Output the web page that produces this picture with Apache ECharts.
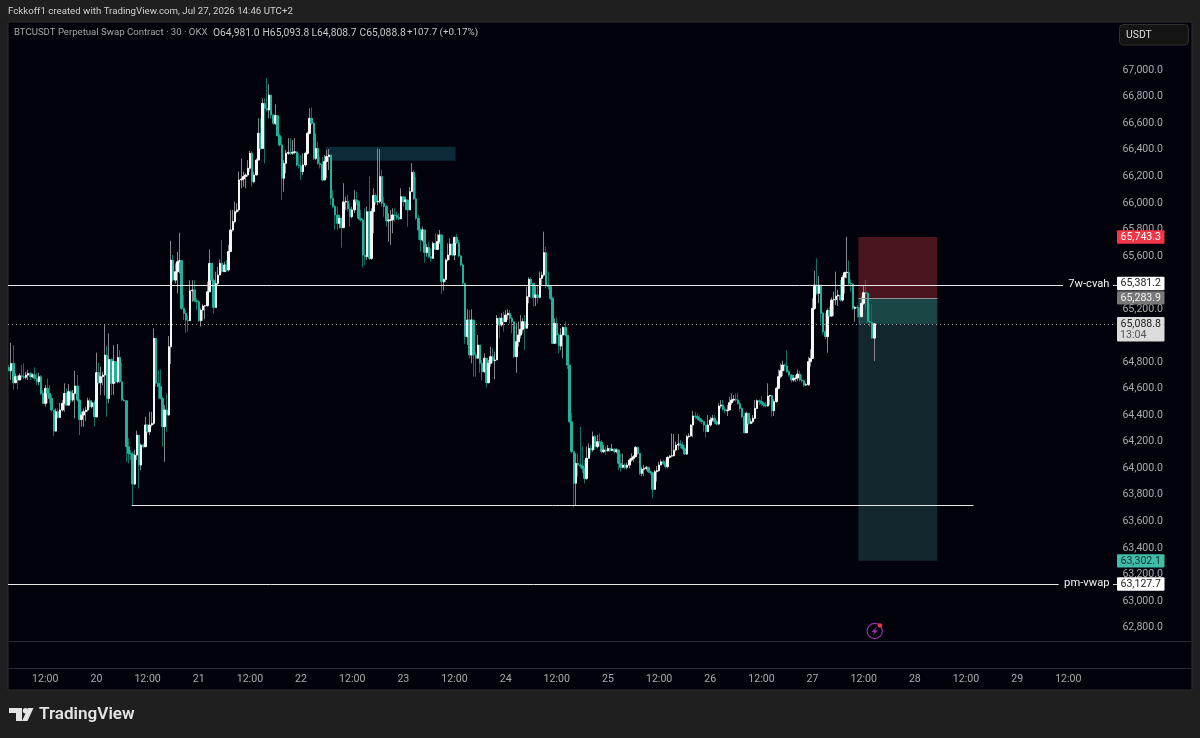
<!DOCTYPE html>
<html><head><meta charset="utf-8">
<style>html,body{margin:0;padding:0;background:#1f1f1f}#c{width:1200px;height:738px}</style>
<script src="https://cdn.jsdelivr.net/npm/echarts@6/dist/echarts.min.js"></script>
</head><body><div id="c"></div>
<script>
// Each bar: [close, high, low]; the open is the previous close.
const firstOpen = 64760;
const jul19 = [[64735,64778,64727],[64790,64946,64665],[64645,64928,64594],[64690,64715,64640],[64665,64702,64594],[64697,64715,64665],[64690,64778,64670],[64685,64790,64670],[64702,64727,64670],[64715,64740,64665],[64690,64727,64665],[64704,64715,64680],[64677,64760,64660],[64652,64715,64627],[64690,64720,64627],[64564,64702,64551],[64489,64589,64484],[64602,64627,64464],[64564,64677,64489],[64526,64627,64489],[64439,64551,64426],[64280,64439,64243],[64426,64451,64275],[64383,64451,64376],[64439,64494,64388],[64489,64514,64426],[64564,64640,64426],[64476,64602,64471],[64577,64634,64476],[64514,64589,64489],[64564,64590,64501],[64620,64735,64376],[64514,64702,64501],[64368,64526,64250],[64401,64426,64313],[64426,64451,64313],[64439,64464,64358],[64509,64532,64426],[64464,64526,64451],[64494,64514,64451],[64388,64514,64313]];
const jul20 = [[64720,64871,64383],[64645,64795,64634],[64690,64765,64551],[64702,64727,64627],[64853,65087,64547],[64526,64921,64388],[64820,65016,64489],[64640,64828,64551],[64803,64928,64551],[64652,64803,64640],[64835,64936,64640],[64652,64891,64640],[64514,64803,64509],[64509,64526,64501],[64162,64514,64049],[64112,64225,64037],[64107,64137,64062],[63881,64125,63723],[64099,64137,63874],[64250,64283,64062],[64024,64250,63848],[64175,64187,63986],[64162,64187,64150],[64326,64388,64162],[64275,64326,64263],[64326,64426,64250],[64338,64426,64313],[64979,65054,64326],[64640,64727,64615],[64615,64740,64526],[64526,64745,64519],[64313,64539,64162],[64439,64476,64049],[64401,64564,64275],[64916,64996,64396],[65569,65715,64785],[65418,65607,65406],[65481,65544,65393],[65556,65632,65318],[65564,65775,65468],[65205,65569,65192],[65167,65305,65117],[65117,65192,65021],[65112,65154,65029],[65338,65418,65112],[65343,65418,65255],[65262,65418,65252],[65255,65280,65192]];
const jul21 = [[65112,65268,65104],[65192,65205,65067],[65222,65237,65112],[65225,65230,65122],[65330,65406,65217],[65544,65649,65330],[65418,65544,65413],[65212,65431,65167],[65393,65481,65237],[65456,65519,65381],[65544,65574,65469],[65482,65721,65469],[65532,65557,65482],[65495,65570,65482],[65633,65683,65482],[65796,65947,65633],[65859,65947,65783],[65934,66009,65846],[65947,65997,65922],[66173,66236,65934],[66180,66336,66110],[66198,66236,66122],[66210,66223,66110],[66261,66323,66198],[66374,66391,66235],[66160,66391,66122],[66210,66235,66148],[66323,66336,66210],[66524,66637,66323],[66411,66637,66400],[66750,66788,66411],[66713,66788,66298],[66700,66939,66690],[66813,66894,66637],[66663,66813,66637],[66600,66663,66587],[66657,66743,66587],[66507,66663,66499],[66436,66524,66424],[66185,66499,66022],[66298,66323,66085],[66374,66399,66223],[66381,66487,66361],[66375,66487,66361],[66381,66474,66361],[66385,66487,66367],[66286,66381,66273],[66280,66374,66260]];
const jul22 = [[66235,66361,66173],[66286,66374,66210],[66374,66386,66273],[66524,66537,66361],[66637,66713,66517],[66600,66720,66587],[66336,66612,66323],[66411,66524,66323],[66298,66462,66286],[66290,66348,66260],[66173,66348,66160],[66311,66361,66173],[66349,66399,66185],[66361,66406,66248],[66035,66349,65984],[65972,66097,65959],[65909,65984,65796],[65846,65972,65796],[65884,65909,65809],[65814,65879,65663],[66007,66148,65809],[66012,66047,65947],[65954,66060,65934],[65896,65997,65821],[65947,65972,65884],[66022,66097,65922],[66009,66085,65984],[65884,66022,65871],[65871,65947,65859],[65607,65884,65512],[65595,65959,65532],[65934,65972,65570],[65582,66198,65570],[65934,65959,65570],[66055,66110,65771],[66007,66072,65984],[66012,66411,65984],[66198,66406,65997],[65997,66248,65972],[65972,66047,65896],[65864,65984,65821],[65870,65922,65708],[65872,65947,65683],[65909,65959,65771],[65905,65959,65859],[65889,65934,65871],[65879,65922,65871],[66047,66110,65879]];
const jul23 = [[66009,66047,65972],[66022,66047,65947],[65947,66022,65821],[66085,66122,65947],[66230,66298,66085],[66030,66248,66022],[65884,66198,65871],[65796,65909,65721],[65721,65809,65633],[65796,65821,65708],[65625,65745,65549],[65665,65690,65595],[65595,65708,65582],[65582,65657,65557],[65695,65708,65582],[65650,65770,65645],[65708,65765,65645],[65758,65796,65690],[65406,65766,65313],[65424,65431,65338],[65570,65582,65406],[65607,65695,65557],[65690,65733,65570],[65607,65695,65595],[65740,65745,65570],[65700,65765,65690],[65600,65720,65590],[65532,65607,65519],[65394,65544,65381],[64992,65394,64937],[65117,65198,64929],[64854,65193,64829],[65117,65198,64791],[64854,65117,64690],[64829,64879,64690],[64929,65004,64829],[64791,64929,64720],[64728,64816,64660],[64829,64866,64720],[64645,64829,64610],[64791,64816,64640],[64841,64916,64766],[64811,64904,64791],[64816,64879,64670],[65130,65155,64816],[65080,65143,64979],[65130,65168,65067],[65105,65180,65029]];
const jul24 = [[65155,65193,65105],[65168,65198,65117],[65130,65193,65092],[65105,65155,65017],[64841,65105,64829],[64954,65092,64720],[65004,65105,64916],[65047,65155,64979],[65105,65130,65017],[65055,65155,64891],[65293,65369,65055],[65424,65439,65243],[65394,65439,65281],[65288,65381,65218],[65306,65381,65223],[65288,65381,65243],[65431,65482,65281],[65456,65482,65381],[65625,65783,65444],[65381,65670,65356],[65369,65482,65349],[65281,65381,65268],[64942,65293,64937],[65092,65130,64937],[65004,65137,64937],[64921,65017,64866],[65004,65055,64891],[65062,65067,64829],[65004,65105,64992],[64778,65004,64746],[64351,64778,64339],[64125,64419,64113],[63887,64125,63706],[64037,64113,63716],[64025,64113,63937],[64018,64313,63999],[63999,64163,63962],[63924,64062,63886],[64075,64163,63912],[64150,64188,64075],[64138,64175,64100],[64238,64276,64125],[64163,64251,64138],[64200,64251,64150],[64195,64263,64163],[64125,64213,64113],[64138,64175,64113],[64130,64163,64100]];
const jul25 = [[64150,64175,64125],[64133,64150,64125],[64145,64183,64133],[64125,64150,64113],[64138,64150,64113],[64037,64138,63987],[64007,64112,63974],[64024,64112,63999],[64007,64037,63992],[64024,64042,63992],[64062,64075,63999],[64075,64112,64049],[64087,64100,64049],[64157,64168,64082],[64112,64163,64100],[63962,64112,63949],[63992,64012,63941],[63999,64024,63941],[64007,64017,63982],[63974,64007,63962],[63967,63982,63949],[63841,63974,63773],[63974,63987,63836],[63982,64017,63899],[64024,64049,63974],[64049,64067,64024],[64037,64062,64024],[64012,64062,63999],[64082,64092,63999],[64092,64100,64075],[64095,64263,64082],[64137,64258,64087],[64175,64200,64125],[64183,64258,64137],[64175,64213,64150],[64150,64200,64137],[64107,64175,64100],[64238,64251,64100],[64243,64263,64225],[64326,64333,64238],[64394,64434,64233],[64389,64426,64369],[64376,64414,64358],[64363,64401,64351],[64351,64376,64333],[64326,64358,64275],[64276,64318,64233],[64326,64401,64276]];
const jul26 = [[64363,64389,64313],[64376,64401,64351],[64351,64401,64333],[64333,64363,64326],[64469,64489,64326],[64477,64514,64451],[64444,64514,64434],[64434,64464,64414],[64439,64477,64394],[64494,64539,64444],[64514,64564,64477],[64519,64552,64502],[64514,64564,64502],[64489,64569,64477],[64451,64502,64426],[64389,64464,64376],[64268,64419,64263],[64414,64426,64276],[64338,64414,64326],[64351,64376,64333],[64376,64401,64338],[64451,64514,64369],[64509,64519,64444],[64502,64519,64477],[64489,64544,64469],[64477,64502,64459],[64469,64502,64459],[64544,64640,64464],[64549,64552,64477],[64434,64552,64389],[64502,64519,64394],[64602,64615,64494],[64690,64745,64595],[64735,64790,64677],[64778,64811,64695],[64770,64790,64735],[64728,64891,64720],[64703,64740,64690],[64665,64710,64645],[64677,64703,64652],[64680,64703,64652],[64710,64745,64660],[64665,64735,64652],[64660,64703,64640],[64627,64670,64610],[64630,64645,64620],[64803,64841,64620],[64828,64896,64766]];
const jul27 = [[65205,65281,64828],[65381,65489,65193],[65318,65582,65306],[65381,65449,65243],[65168,65381,65092],[65029,65180,65004],[64992,65168,64972],[65188,65205,64871],[65147,65218,65137],[65268,65288,65143],[65272,65331,65147],[65298,65482,65230],[65305,65344,65223],[65268,65419,65256],[65439,65457,65256],[65474,65482,65318],[65477,65745,65431],[65394,65565,65381],[65389,65424,65331],[65205,65394,65193],[65213,65223,65105],[65208,65230,65130],[65143,65213,65080],[65243,65293,65137],[65323,65381,65230],[65318,65419,65205],[65105,65331,65097],[65100,65238,65067],[64981,65238,64975],[65088.8,65093.8,64808.7]];
const dayBars = [jul19,jul20,jul21,jul22,jul23,jul24,jul25,jul26,jul27];

// Named prices
const cvah = 65381.2, vwap = 63127.7, swingLow = 63723, lastPrice = 65088.8;
const stopPrice = 65743.3, entryPrice = 65283.9, targetPrice = 63302.1;
const zoneTop = 66423, zoneBottom = 66318;
const yTicks = {min:62600,max:67400,step:200,highestShown:67000};
const dayLabels = ['19','20','21','22','23','24','25','26','27','28','29','30'];

// Time categories (30 minute bars, first bar is Jul 19 03:30)
const slots = 521, firstSlot = 7;
const categories = [];
for (let i=0;i<slots;i++){
  const s = i + firstSlot;
  const d = Math.floor(s/48), m = s%48;
  const hh = String(Math.floor(m/2)).padStart(2,'0'), mm = m%2? '30':'00';
  categories.push(dayLabels[d]+' '+hh+':'+mm);
}
const bars = []; const bodies = [];
let prev = firstOpen;
dayBars.flat().forEach(b=>{
  const [c,h,l]=b;
  const hi=Math.max(h,c,prev), lo=Math.min(l,c,prev);
  bars.push([prev,c,lo,hi]);
  bodies.push([prev,c,Math.min(prev,c),Math.max(prev,c)]);
  prev=c;
});

const band = 2.1313;
const gridLeft = 8, gridW = slots*band;
const gridTop = 17.14, gridH = 636.87;
const FONT = 'Roboto, sans-serif';
const tf = (s,w)=>`${w||400} ${s}px Roboto, sans-serif`;

// x positions below are slot indexes
const zones = [
  {x0:149,x1:210,p0:zoneTop,p1:zoneBottom,fill:'#0d2a38'},
  {x0:399,x1:436,p0:stopPrice,p1:entryPrice,fill:'#4b1520'},
  {x0:399,x1:436,p0:entryPrice,p1:targetPrice,fill:'#12282e'},
  {x0:399,x1:436,p0:entryPrice,p1:lastPrice,fill:'#1b4646'}
];
const lines = [
  {x0:0,x1:495,p:cvah,color:'#e6e6e6',w:1},
  {x0:58,x1:453,p:swingLow,color:'#e6e6e6',w:1},
  {x0:0,x1:493,p:vwap,color:'#e6e6e6',w:1},
  {x0:0,x1:519,p:lastPrice,color:'#a8a8a8',w:1,dash:[1,3]},
  {x0:399,x1:436,p:entryPrice,color:'#8f8f8f',w:1}
];
const tags = [
  {p:stopPrice,text:'65,743.3',bg:'#f23645',fg:'#ffffff'},
  {p:cvah,text:'65,381.2',bg:'#ffffff',fg:'#222222',name:'7w-cvah',dy:-1.5},
  {p:entryPrice,text:'65,283.9',bg:'#787878',fg:'#f0f0f0'},
  {p:lastPrice,text:'65,088.8',sub:'13:04',bg:'#dcdcdc',fg:'#222222'},
  {p:targetPrice,text:'63,302.1',bg:'#42bda8',fg:'#10302a'},
  {p:vwap,text:'63,127.7',bg:'#ffffff',fg:'#222222',name:'pm-vwap'}
];

function zoneItem(params,api){
  const z=zones[params.dataIndex]; const hb=band/2;
  const a=api.coord([z.x0,z.p0]), b=api.coord([z.x1,z.p1]);
  return {type:'rect',shape:{x:a[0]-hb,y:a[1],width:b[0]-a[0],height:b[1]-a[1]},style:{fill:z.fill}};
}
function lineItem(params,api){
  const l=lines[params.dataIndex]; const hb=band/2;
  const a=api.coord([l.x0,l.p]), b=api.coord([l.x1,l.p]);
  const y=Math.round(a[1])+0.5;
  return {type:'line',shape:{x1:a[0]-hb,y1:y,x2:b[0]-hb,y2:y},style:{stroke:l.color,lineWidth:l.w,lineDash:l.dash||null}};
}
function tagItem(params,api){
  const t=tags[params.dataIndex];
  const yLine=api.coord([0,t.p])[1];
  const y=yLine+(t.dy||0);
  const x=1117,w=47.5,h=13.4;
  const ch=[];
  if(t.sub){
    ch.push({type:'rect',shape:{x,y:y-6.8,width:w,height:24.6,r:1},style:{fill:t.bg}});
    ch.push({type:'text',style:{x:x+w/2,y:y+0.1,text:t.text,fill:t.fg,font:tf(10.6),align:'center',verticalAlign:'middle'}});
    ch.push({type:'text',style:{x:x+3,y:y+11.4,text:t.sub,fill:'#555555',font:tf(10.6),align:'left',verticalAlign:'middle'}});
  } else {
    ch.push({type:'rect',shape:{x,y:y-h/2,width:w,height:h,r:1},style:{fill:t.bg}});
    ch.push({type:'text',style:{x:x+w/2,y:y,text:t.text,fill:t.fg,font:tf(10.6),align:'center',verticalAlign:'middle'}});
  }
  if(t.name){
    ch.push({type:'text',style:{x:1109.5,y:yLine-0.5,text:t.name,fill:'#f2f2f2',font:tf(11.2),align:'right',verticalAlign:'middle'}});
    ch.push({type:'line',shape:{x1:1113,y1:Math.round(yLine)+0.5,x2:1117,y2:Math.round(yLine)+0.5},style:{stroke:'#d0d0d0',lineWidth:1}});
  }
  return {type:'group',children:ch};
}

const txt=(x,y,text,fill,font,extra)=>({type:'text',x,y,silent:true,style:Object.assign({text,fill,font,verticalAlign:'middle'},extra||{})});
const sep=(y)=>({type:'line',shape:{x1:8.5,y1:y,x2:1191.5,y2:y},style:{stroke:'#2c2c32',lineWidth:1}});

const graphic=[
  {type:'rect',shape:{x:8,y:22,width:1184,height:668},style:{fill:'#02020c',stroke:'#2e2e2e',lineWidth:1}},
  sep(641.5),sep(668.5),
  txt(8,12,'Fckkoff1 created with TradingView.com, Jul 27, 2026 14:46 UTC+2','#cfcfcf',tf(9.7)),
  txt(14,33,'BTCUSDT Perpetual Swap Contract · 30 · OKX','#a6a6a6',tf(9.6)),
  txt(213,33,'O64,981.0','#c8c8c8',tf(10.3)),
  txt(262.5,33,'H65,093.8','#c8c8c8',tf(10.3)),
  txt(311.5,33,'L64,808.7','#c8c8c8',tf(10.3)),
  txt(359.5,33,'C65,088.8','#c8c8c8',tf(10.3)),
  txt(407,33,'+107.7 (+0.17%)','#c8c8c8',tf(9.8)),
  {type:'rect',shape:{x:1119.5,y:24.5,width:69,height:20.5,r:4},style:{fill:'#141414',stroke:'#303030',lineWidth:1}},
  txt(1126,35,'USDT','#dddddd',tf(10.4)),
  // TradingView wordmark
  {type:'polygon',shape:{points:[[9,708],[22,708],[22,721],[16,721],[16,713],[9,713]]},style:{fill:'#e4e4e4'}},
  {type:'circle',shape:{cx:25.5,cy:710.8,r:2.7},style:{fill:'#e4e4e4'}},
  {type:'polygon',shape:{points:[[28,708],[33.5,708],[27.5,721],[22,721]]},style:{fill:'#e4e4e4'}},
  txt(39,714.5,'TradingView','#e4e4e4',tf(17.1,600)),
  // flash icon
  {type:'circle',shape:{cx:874.7,cy:631,r:7.6},style:{fill:'none',stroke:'#9c2fa8',lineWidth:1.2}},
  {type:'polygon',shape:{points:[[877,626.5],[871.5,632],[874.2,632],[872.5,635.5],[878,630.3],[875.2,630.3]]},style:{fill:'#9c2fa8'}},
  {type:'circle',shape:{cx:880,cy:625.4,r:2.2},style:{fill:'#f23645'}}
];

const chart=echarts.init(document.getElementById('c'),null,{renderer:'canvas'});
chart.setOption({
  animation:false,
  backgroundColor:'#1f1f1f',
  graphic:{elements:graphic},
  grid:{left:gridLeft,top:gridTop,width:gridW,height:gridH,containLabel:false},
  xAxis:{type:'category',data:categories,boundaryGap:true,
    axisLine:{show:false},axisTick:{show:false},splitLine:{show:false},
    axisLabel:{margin:20,color:'#aaaaaa',fontFamily:FONT,fontSize:10.6,hideOverlap:false,
      interval:(i,v)=>/ (12:00|00:00)$/.test(v),
      formatter:v=>{const p=v.split(' ');return p[1]==='00:00'?p[0]:p[1];}}},
  yAxis:{type:'value',scale:false,min:yTicks.min,max:yTicks.max,interval:yTicks.step,position:'right',
    axisLine:{show:false},axisTick:{show:false},splitLine:{show:false},
    axisLabel:{margin:4,color:'#aaaaaa',fontFamily:FONT,fontSize:10.6,align:'left',padding:[0,0,3,0],
      formatter:v=>(v===yTicks.min||v>yTicks.highestShown)?'':v.toLocaleString('en-US',{minimumFractionDigits:1,maximumFractionDigits:1})}},
  series:[
    {type:'custom',name:'zones',z:1,renderItem:zoneItem,data:zones.map(z=>[z.x0,z.p0]),silent:true,clip:false},
    {type:'candlestick',name:'BTCUSDT wicks',z:2,data:bars,barWidth:1,large:false,silent:true,
      itemStyle:{color:'#85858a',color0:'#107062',borderColor:'#85858a',borderColor0:'#107062',borderWidth:1}},
    {type:'candlestick',name:'BTCUSDT bodies',z:3,data:bodies,barWidth:2,large:false,silent:true,
      itemStyle:{color:'#f5f5f5',color0:'#22b09a',borderColor:'#f5f5f5',borderColor0:'#22b09a',borderWidth:1}},
    {type:'custom',name:'levels',z:4,renderItem:lineItem,data:lines.map(l=>[l.x0,l.p]),silent:true,clip:false},
    {type:'custom',name:'tags',z:5,renderItem:tagItem,data:tags.map(t=>[0,t.p]),silent:true,clip:false}
  ]
});
</script></body></html>
